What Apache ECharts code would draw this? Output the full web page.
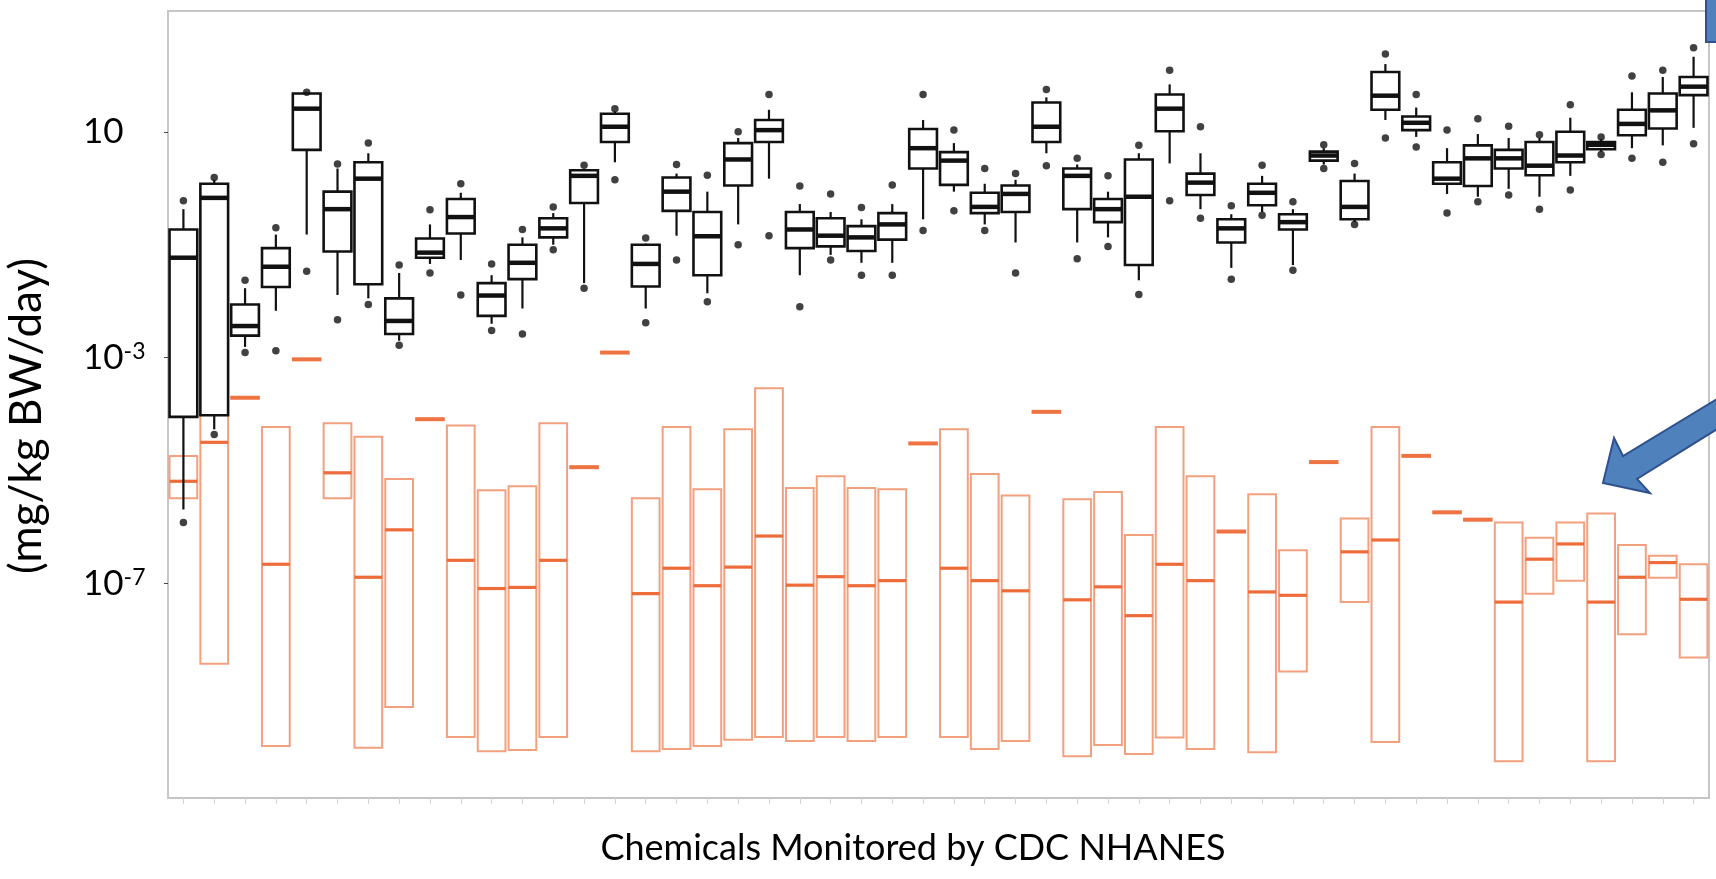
<!DOCTYPE html>
<html>
<head>
<meta charset="utf-8">
<title>Chemicals Monitored by CDC NHANES</title>
<script src="https://cdn.jsdelivr.net/npm/echarts@6/dist/echarts.min.js"></script>
<style>
  html, body { margin: 0; padding: 0; background: #fff; }
  #main { width: 1716px; height: 879px; }
</style>
</head>
<body>
<div id="main"></div>
<script>
// all values are log10(mg/kg BW/day)

// one id per chemical (the real names are not legible in the source)
var chemicals = Array.from({ length: 50 }, function (_, i) { return String(i + 1); });

// black boxes: biomonitoring-inferred exposures
var biomDotHi = [-0.22, 0.19, -1.63, -0.70, 1.70, 0.43, 0.80, -1.36, -0.38, 0.08,
                 -1.34, -0.73, -0.33, 0.41, 1.41, -0.88, 0.42, 0.23, 1.00, 1.66,
                 0.04, -0.10, -0.34, 0.06, 1.66, 1.03, 0.35, 0.26, 1.75, 0.53,
                 0.22, 0.76, 2.09, 1.09, -0.31, 0.41, -0.24, 0.77, 0.44, 2.38,
                 1.66, 1.03, 1.23, 1.10, 0.95, 1.48, 0.91, 1.99, 2.09, 2.49];
var biomHigh  = [-0.37, 0.15, -1.77, -0.82, 1.68, 0.35, 0.62, -1.50, -0.64, -0.08,
                 -1.54, -0.87, -0.44, 0.32, 1.36, -0.98, 0.26, -0.06, 0.89, 1.39,
                 -0.28, -0.42, -0.55, -0.28, 1.21, 0.80, 0.08, 0.15, 1.61, 0.42,
                 -0.06, 0.62, 1.84, 0.62, -0.46, 0.22, -0.37, 0.71, 0.26, 2.20,
                 1.43, 0.71, 0.96, 0.89, 0.89, 1.25, 0.87, 1.70, 1.97, 2.33];
var biomQ3    = [-0.73, 0.08, -2.06, -1.06, 1.68, -0.06, 0.46, -1.95, -0.89, -0.19,
                 -1.68, -1.00, -0.53, 0.32, 1.32, -1.00, 0.19, -0.42, 0.80, 1.21,
                 -0.42, -0.53, -0.67, -0.44, 1.05, 0.64, -0.08, 0.05, 1.52, 0.35,
                 -0.19, 0.51, 1.66, 0.26, -0.55, 0.08, -0.46, 0.65, 0.13, 2.06,
                 1.27, 0.46, 0.76, 0.68, 0.82, 1.00, 0.82, 1.39, 1.68, 1.97];
var biomMed   = [-1.23, -0.17, -2.44, -1.39, 1.41, -0.37, 0.17, -2.35, -1.14, -0.51,
                 -1.90, -1.32, -0.71, 0.22, 1.09, -1.34, -0.06, -0.85, 0.51, 1.03,
                 -0.73, -0.84, -0.87, -0.64, 0.71, 0.49, -0.33, -0.10, 1.09, 0.22,
                 -0.37, -0.15, 1.41, 0.10, -0.71, -0.08, -0.60, 0.58, -0.33, 1.64,
                 1.16, 0.17, 0.53, 0.53, 0.40, 0.58, 0.77, 1.14, 1.38, 1.80];
var biomQ1    = [-4.05, -4.02, -2.61, -1.75, 0.68, -1.12, -1.70, -2.58, -1.23, -0.80,
                 -2.26, -1.61, -0.87, -0.26, 0.82, -1.74, -0.40, -1.54, 0.05, 0.82,
                 -1.06, -1.03, -1.11, -0.91, 0.35, 0.06, -0.44, -0.42, 0.82, -0.37,
                 -0.60, -1.36, 1.01, -0.12, -0.96, -0.30, -0.73, 0.49, -0.55, 1.39,
                 1.03, 0.08, 0.04, 0.35, 0.23, 0.46, 0.69, 0.94, 1.06, 1.65];
var biomLow   = [-5.69, -4.27, -2.81, -2.17, -0.82, -1.89, -1.95, -2.70, -1.34, -1.27,
                 -2.40, -2.13, -1.00, -1.68, 0.46, -2.13, -0.84, -1.86, -0.64, 0.17,
                 -1.54, -1.18, -1.32, -1.32, -0.55, -0.06, -0.64, -0.96, 0.62, -0.96,
                 -0.87, -1.63, 0.44, -0.37, -1.41, -0.42, -1.36, 0.42, -0.60, 1.21,
                 0.91, -0.10, -0.15, -0.01, -0.15, 0.22, 0.65, 0.71, 0.76, 1.07];
var biomDotLo = [-5.92, -4.36, -2.91, -2.88, -1.47, -2.33, -2.06, -2.78, -1.50, -1.89,
                 -2.52, -2.58, -1.09, -1.77, 0.15, -2.38, -1.27, -2.01, -1.00, -0.84,
                 -2.10, -1.27, -1.54, -1.54, -0.75, -0.40, -0.75, -1.50, 0.40, -1.25,
                 -1.03, -1.88, -0.22, -0.53, -1.61, -0.48, -1.45, 0.35, -0.64, 0.89,
                 0.73, -0.44, -0.24, -0.12, -0.37, -0.03, 0.60, 0.53, 0.46, 0.79];

// orange boxes: model predictions (low == high means a single value)
var modelHigh = [-4.74, -4.00, -3.71, -4.23, -3.03, -4.16, -4.40, -5.15, -4.09, -4.20,
                 -5.35, -5.28, -4.16, -4.94, -2.91, -5.49, -4.23, -5.33, -4.27, -3.54,
                 -5.31, -5.10, -5.31, -5.33, -4.52, -4.27, -5.06, -5.44, -3.96, -5.51,
                 -5.38, -6.14, -4.23, -5.10, -6.08, -5.42, -6.41, -4.85, -5.85, -4.23,
                 -4.74, -5.74, -5.87, -5.92, -6.19, -5.92, -5.76, -6.32, -6.51, -6.66];
var modelMed  = [-5.19, -4.50, -3.71, -6.66, -3.03, -5.04, -6.89, -6.05, -4.09, -6.59,
                 -7.09, -7.07, -6.59, -4.94, -2.91, -7.18, -6.73, -7.04, -6.71, -6.16,
                 -7.03, -6.88, -7.04, -6.95, -4.52, -6.73, -6.95, -7.13, -3.96, -7.29,
                 -7.06, -7.57, -6.66, -6.95, -6.08, -7.15, -7.21, -4.85, -6.44, -6.23,
                 -4.74, -5.74, -5.87, -7.33, -6.57, -6.30, -7.33, -6.89, -6.63, -7.28];
var modelLow  = [-5.49, -8.42, -3.71, -9.88, -3.03, -5.49, -9.91, -9.19, -4.09, -9.72,
                 -9.97, -9.95, -9.72, -4.94, -2.91, -9.97, -9.93, -9.88, -9.77, -9.72,
                 -9.79, -9.72, -9.79, -9.72, -4.52, -9.72, -9.93, -9.79, -3.96, -10.06,
                 -9.86, -10.02, -9.73, -9.93, -6.08, -9.99, -8.56, -4.85, -7.33, -9.81,
                 -4.74, -5.74, -5.87, -10.15, -7.18, -6.95, -10.15, -7.90, -6.90, -8.31];

// tick positions on the y axis (exponents)
var yTicks = [1, -3, -7];

var myChart = echarts.init(document.getElementById('main'));

var biomData = chemicals.map(function (c, i) {
    return [i, biomLow[i], biomQ1[i], biomMed[i], biomQ3[i], biomHigh[i]];
});
var modelData = chemicals.map(function (c, i) {
    return [i, modelLow[i], modelMed[i], modelHigh[i]];
});
var dotData = [];
chemicals.forEach(function (c, i) {
    dotData.push([i, biomDotHi[i]]);
    dotData.push([i, biomDotLo[i]]);
});

// black box with whiskers
function renderBiom(params, api) {
    var i = api.value(0);
    var band = api.size([1, 0])[0];
    var w = band * 0.9;
    var cx = api.coord([i, api.value(3)])[0];
    var yLow = api.coord([i, api.value(1)])[1];
    var yQ1 = api.coord([i, api.value(2)])[1];
    var yMed = api.coord([i, api.value(3)])[1];
    var yQ3 = api.coord([i, api.value(4)])[1];
    var yHigh = api.coord([i, api.value(5)])[1];
    var line = { stroke: '#111', lineWidth: 2.2 };
    return {
        type: 'group',
        children: [
            { type: 'line', shape: { x1: cx, y1: yHigh, x2: cx, y2: yQ3 }, style: line },
            { type: 'line', shape: { x1: cx, y1: yQ1, x2: cx, y2: yLow }, style: line },
            { type: 'rect', shape: { x: cx - w / 2, y: yQ3, width: w, height: Math.max(yQ1 - yQ3, 1) },
              style: { fill: '#fff', stroke: '#111', lineWidth: 2.6 } },
            { type: 'line', shape: { x1: cx - w / 2, y1: yMed, x2: cx + w / 2, y2: yMed },
              style: { stroke: '#111', lineWidth: 4.5 } }
        ]
    };
}

// orange range box, or a single dash when there is only one value
function renderModel(params, api) {
    var i = api.value(0);
    var lo = api.value(1), md = api.value(2), hi = api.value(3);
    var band = api.size([1, 0])[0];
    var p = api.coord([i, md]);
    if (lo === hi) {
        var w1 = band * 0.96;
        return {
            type: 'line',
            shape: { x1: p[0] - w1 / 2, y1: p[1], x2: p[0] + w1 / 2, y2: p[1] },
            style: { stroke: '#ee7342', lineWidth: 4 }
        };
    }
    var w = band * 0.9;
    var yTop = api.coord([i, hi])[1];
    var yBot = api.coord([i, lo])[1];
    return {
        type: 'group',
        children: [
            { type: 'rect', shape: { x: p[0] - w / 2, y: yTop, width: w, height: yBot - yTop },
              style: { fill: 'rgba(255,255,255,0)', stroke: '#f2a07e', lineWidth: 2 } },
            { type: 'line', shape: { x1: p[0] - w / 2, y1: p[1], x2: p[0] + w / 2, y2: p[1] },
              style: { stroke: '#ee6c3a', lineWidth: 3.2 } }
        ]
    };
}

var option = {
    backgroundColor: '#fff',
    animation: false,
    grid: {
        left: 168, top: 11, width: 1541, height: 787,
        show: true, borderColor: '#c6c6c6', borderWidth: 2
    },
    xAxis: {
        type: 'category',
        data: chemicals,
        boundaryGap: true,
        axisLine: { show: false, onZero: false },
        axisTick: { show: true, alignWithLabel: true, length: 6, lineStyle: { color: '#d4d4d4' } },
        axisLabel: { show: false },
        splitLine: { show: false }
    },
    yAxis: {
        type: 'value',
        min: -10.8,
        max: 3.14,
        axisLine: { show: false },
        splitLine: { show: false },
        axisTick: { show: true, customValues: yTicks, length: 4, lineStyle: { color: '#444' } },
        axisLabel: {
            customValues: yTicks,
            margin: 85,
            align: 'left',
            formatter: function (v) {
                return v === 1 ? '{b|10}' : '{b|10}{s|' + v + '}';
            },
            rich: {
                b: { fontFamily: 'Lato', fontSize: 35, color: '#000' },
                s: { fontFamily: 'Lato', fontSize: 23, color: '#000', verticalAlign: 'top' }
            }
        }
    },
    graphic: [
        {
            type: 'text', x: 913, y: 848,
            style: { text: 'Chemicals Monitored by CDC NHANES', fill: '#000',
                     font: '36px Lato', textAlign: 'center', textVerticalAlign: 'middle' }
        },
        {
            type: 'text', x: 27, y: 416, rotation: Math.PI / 2,
            style: { text: '(mg/kg BW/day)', fill: '#000',
                     font: '44px Lato', textAlign: 'center', textVerticalAlign: 'middle' }
        },
        // blue call-out arrows
        {
            type: 'polygon', z: 100,
            shape: { points: [[1706, -4], [1706, 42], [1722, 42], [1722, -4]] },
            style: { fill: '#4f81bd', stroke: '#2f528f', lineWidth: 2 }
        },
        {
            type: 'polygon', z: 100,
            shape: { points: [[1603, 483], [1614, 438], [1623, 456], [1722, 396],
                              [1722, 426], [1637, 479], [1650, 493]] },
            style: { fill: '#4f81bd', stroke: '#2f528f', lineWidth: 2 }
        }
    ],
    series: [
        {
            name: 'model',
            type: 'custom',
            renderItem: renderModel,
            data: modelData,
            encode: { x: 0, y: [1, 2, 3] },
            z: 1
        },
        {
            name: 'biomonitoring',
            type: 'custom',
            renderItem: renderBiom,
            data: biomData,
            encode: { x: 0, y: [1, 2, 3, 4, 5] },
            z: 2
        },
        {
            name: 'extremes',
            type: 'scatter',
            data: dotData,
            symbolSize: 7.5,
            itemStyle: { color: '#111' },
            z: 3
        }
    ]
};

myChart.setOption(option);
</script>
</body>
</html>
